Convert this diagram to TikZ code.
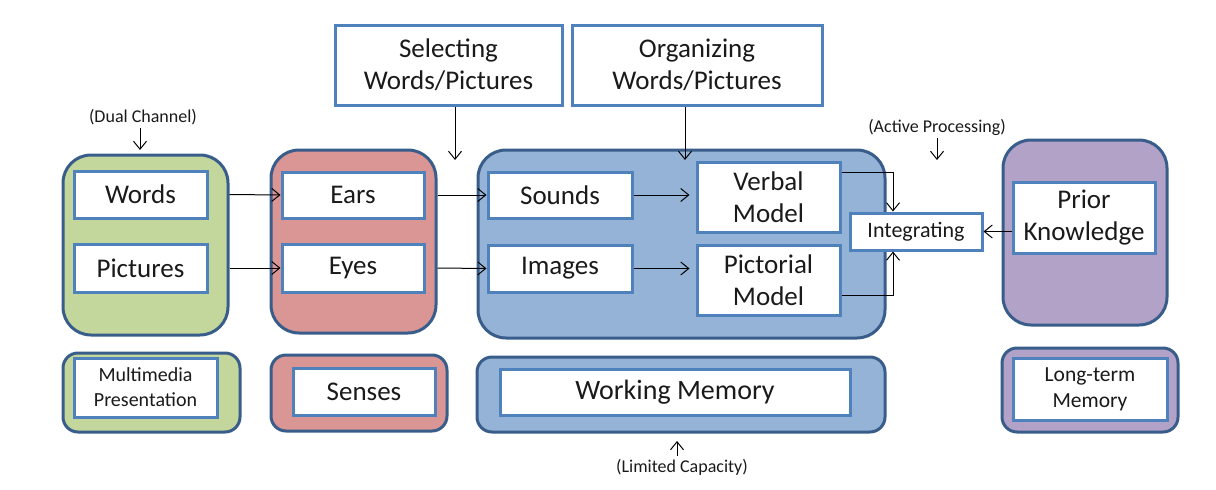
\documentclass[tikz,border=0pt]{standalone}
\usepackage{fontspec}
\setmainfont{Carlito}
\usetikzlibrary{arrows.meta}
\definecolor{gfill}{HTML}{C3D69B}
\definecolor{rfill}{HTML}{D99694}
\definecolor{bfill}{HTML}{95B3D7}
\definecolor{pfill}{HTML}{B3A2C7}
\definecolor{outline}{HTML}{385D8A}
\definecolor{inline}{HTML}{4F81BD}
\definecolor{txt}{HTML}{1A1A1A}
\tikzset{
  bigbox/.style={draw=outline, line width=3pt, rounded corners=28pt, minimum width=#1, inner sep=0pt},
  lowbox/.style={draw=outline, line width=3pt, rounded corners=15pt, inner sep=0pt},
  wbox/.style={draw=inline, fill=white, line width=3pt, inner sep=0pt, align=center, text=txt, font=\fontsize{27}{32}\selectfont},
  lbl/.style={text=txt, font=\fontsize{18}{21}\selectfont, inner sep=0pt},
  conn/.style={line width=1pt, -{Straight Barb[length=8pt,width=13pt,line width=1pt]}},
}
\begin{document}
\begin{tikzpicture}[x=1pt,y=-1pt]
\useasboundingbox (0,0) rectangle (1216,490);
% big containers
\node[bigbox=165pt, fill=gfill, minimum height=180pt] (green) at (145.5,245) {};
\node[bigbox=165pt, fill=rfill, minimum height=183pt] (red) at (353.5,241.5) {};
\node[bigbox=407pt, fill=bfill, minimum height=188pt] (blue) at (681.5,244) {};
\node[bigbox=164pt, fill=pfill, minimum height=185pt] (purple) at (1085,232.5) {};
% inner boxes
\node[wbox, minimum width=133pt, minimum height=47pt] (words) at (140.5,194.5) {Words};
\node[wbox, minimum width=133pt, minimum height=48pt] (pictures) at (140.5,268) {Pictures};
\node[wbox, minimum width=142pt, minimum height=46pt] (ears) at (353,195) {Ears};
\node[wbox, minimum width=142pt, minimum height=48pt] (eyes) at (353,268) {Eyes};
\node[wbox, minimum width=144pt, minimum height=46pt] (sounds) at (560,195) {Sounds};
\node[wbox, minimum width=144pt, minimum height=47pt] (images) at (560,268.5) {Images};
\node[wbox, minimum width=143pt, minimum height=70pt] (verbal) at (768.5,197) {Verbal\\Model};
\node[wbox, minimum width=143pt, minimum height=70pt] (pictorial) at (768.5,280) {Pictorial\\Model};
\node[wbox, minimum width=132pt, minimum height=37pt, font=\fontsize{22}{26}\selectfont] (integ) at (916,231.5) {Integrating};
\node[wbox, minimum width=142pt, minimum height=71pt] (prior) at (1084,217.5) {Prior\\Knowledge};
% process boxes on top
\node[wbox, minimum width=227pt, minimum height=80pt] (select) at (448.5,65) {Selecting\\Words/Pictures};
\node[wbox, minimum width=250pt, minimum height=80pt] (organize) at (697,65) {Organizing\\Words/Pictures};
% bottom row
\node[lowbox, fill=gfill, minimum width=177pt, minimum height=79pt] (mmout) at (151.5,392.5) {};
\node[wbox, minimum width=143pt, minimum height=59pt, font=\fontsize{20}{25}\selectfont] (mm) at (145.5,387.5) {Multimedia\\Presentation};
\node[lowbox, fill=rfill, minimum width=176pt, minimum height=76pt] (sensout) at (359,393) {};
\node[wbox, minimum width=142pt, minimum height=47pt] (senses) at (364,391.5) {Senses};
\node[lowbox, fill=bfill, minimum width=408pt, minimum height=75pt] (wmout) at (681,394.5) {};
\node[wbox, minimum width=350pt, minimum height=46pt, font=\fontsize{28}{32}\selectfont] (wm) at (675,392) {Working Memory};
\node[lowbox, fill=pfill, minimum width=176pt, minimum height=84pt] (ltout) at (1090,390) {};
\node[wbox, minimum width=154pt, minimum height=62pt, font=\fontsize{21.5}{26}\selectfont] (lt) at (1090,389) {Long-term\\Memory};
% labels
\node[lbl] (dual) at (143,117) {(Dual Channel)};
\node[lbl] (active) at (937,127) {(Active Processing)};
\node[lbl] (limited) at (682,467) {(Limited Capacity)};
\coordinate (dualtip) at (140,150);
\coordinate (activetip) at (937,160);
\coordinate (limtip) at (677,441);
\coordinate (seltip) at (455,160);
\coordinate (orgtip) at (685,160);
% connectors
\draw[conn] (dual.south -| dualtip) ++(0,3) -- (dualtip);
\draw[conn] (active.south -| activetip) ++(0,3) -- (activetip);
\draw[conn] (limited.north -| limtip) ++(0,-3) -- (limtip);
\draw[conn] (select.south -| seltip) -- (seltip);
\draw[conn] (organize.south -| orgtip) -- (orgtip);
\draw[conn] (green.east |- words) -- (ears.west);
\draw[conn] (green.east |- pictures) -- (eyes.west);
\draw[conn] (red.east |- ears) -- (sounds.west);
\draw[conn] (red.east |- eyes) -- (images.west);
\draw[conn] (sounds.east) -- ([xshift=-6pt]verbal.west |- sounds);
\draw[conn] (images.east) -- ([xshift=-6pt]pictorial.west |- images);
\draw[conn] ([yshift=25pt]verbal.east) -| ([xshift=-23pt]integ.north);
\draw[conn] ([yshift=-15pt]pictorial.east) -| ([xshift=-23pt]integ.south);
\draw[conn] (prior.west |- integ) -- (integ.east);
\end{tikzpicture}
\end{document}
